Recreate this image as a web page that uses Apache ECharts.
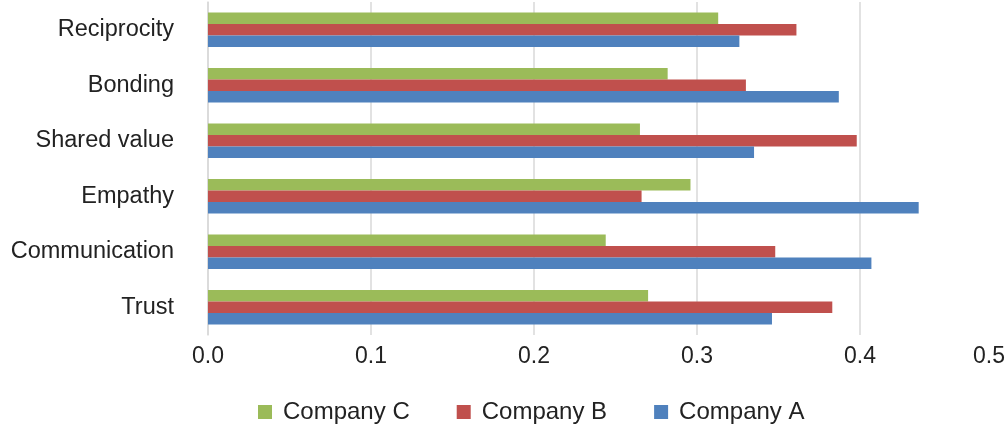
<!DOCTYPE html>
<html>
<head>
<meta charset="utf-8">
<script src="https://cdn.jsdelivr.net/npm/echarts@6/dist/echarts.min.js"></script>
<style>
  html, body { margin: 0; padding: 0; background: #fff; }
  #chart { width: 1007px; height: 435px; }
</style>
</head>
<body>
<div id="chart"></div>
<script>
// categories listed bottom to top
var categories = ['Trust', 'Communication', 'Empathy', 'Shared value', 'Bonding', 'Reciprocity'];
var companyA = [0.346, 0.407, 0.436, 0.335, 0.387, 0.326];
var companyB = [0.383, 0.348, 0.266, 0.398, 0.330, 0.361];
var companyC = [0.270, 0.244, 0.296, 0.265, 0.282, 0.313];
var legendOrder = ['Company C', 'Company B', 'Company A'];

var myChart = echarts.init(document.getElementById('chart'));

var option = {
    animation: false,
    textStyle: { fontFamily: 'Liberation Sans, Arial, sans-serif' },
    legend: {
        data: legendOrder,
        left: 258,
        top: 400,
        padding: 0,
        icon: 'rect',
        itemWidth: 14,
        itemHeight: 14,
        itemGap: 47,
        textStyle: { fontSize: 24, color: '#222', padding: [0, 0, 0, 6] }
    },
    grid: {
        left: 208,
        width: 815,   // 0.5 falls just past the right edge, as in the cropped original
        top: 2,
        bottom: 100,
        outerBoundsMode: 'none'
    },
    xAxis: {
        type: 'value',
        min: 0,
        max: 0.5,
        interval: 0.1,
        axisLine: { show: false },
        axisTick: { show: false },
        splitLine: { lineStyle: { color: '#d9d9d9', width: 1.5 } },
        axisLabel: {
            margin: 10,
            fontSize: 23,
            color: '#222',
            showMaxLabel: true,
            formatter: function (v) {
                if (v >= 0.5) return '{m|' + v.toFixed(1) + '}';
                return v.toFixed(1);
            },
            rich: {
                m: { fontSize: 23, color: '#222', padding: [0, 68, 0, 0] }
            }
        }
    },
    yAxis: {
        type: 'category',
        data: categories,
        axisLine: { lineStyle: { color: '#d9d9d9', width: 1.5 } },
        axisTick: { show: false },
        axisLabel: { fontSize: 23.5, color: '#222', margin: 34 }
    },
    series: [
        {
            name: 'Company C',
            type: 'bar',
            data: companyC,
            barWidth: 11.5,
            barGap: '0%',
            itemStyle: { color: '#9bbb59' }
        },
        {
            name: 'Company B',
            type: 'bar',
            data: companyB,
            barWidth: 11.5,
            barGap: '0%',
            itemStyle: { color: '#c0504d' }
        },
        {
            name: 'Company A',
            type: 'bar',
            data: companyA,
            barWidth: 11.5,
            barGap: '0%',
            itemStyle: { color: '#4f81bd' }
        }
    ]
};

myChart.setOption(option);
window.addEventListener('resize', function () {
    myChart.resize();
});
</script>
</body>
</html>
